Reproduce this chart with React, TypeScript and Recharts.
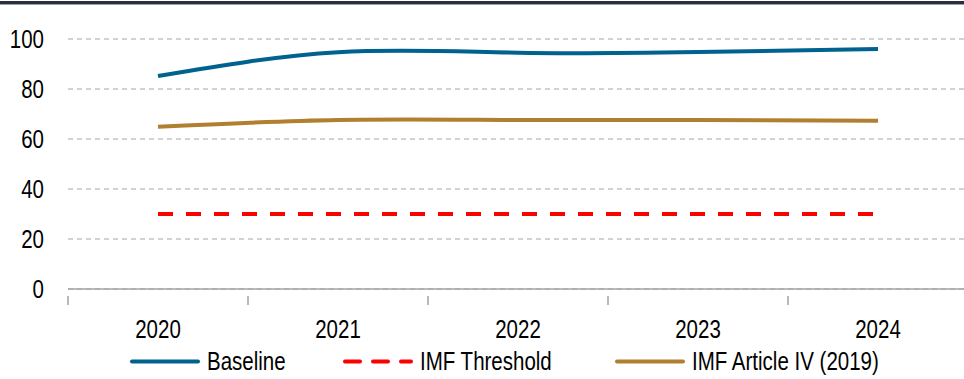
import { LineChart, Line, XAxis, YAxis, CartesianGrid, Legend } from 'recharts';

const years = ['2020', '2021', '2022', '2023', '2024'];
const baseline = [85.2, 94.7, 94.5, 94.8, 96.0];
const imfThreshold = [30, 30, 30, 30, 30];
const articleIV = [64.9, 67.6, 67.6, 67.6, 67.3];
const yTicks = [0, 20, 40, 60, 80, 100];
const legendOrder = ['Baseline', 'IMF Threshold', 'IMF Article IV (2019)'];

const data = years.map((year, i) => ({
  year,
  baseline: baseline[i],
  threshold: imfThreshold[i],
  article: articleIV[i],
}));

const FONT = "'Liberation Sans', Arial, sans-serif";
const AXIS_GREY = '#a3a3a3';
const NARROW = 0.82;

// Arial Narrow look: regular sans squeezed horizontally
const NarrowText = ({ x, y, anchor = 'start', children }: any) => (
  <text
    transform={`translate(${x},${y}) scale(${NARROW},1)`}
    textAnchor={anchor}
    fontSize={25}
    fontFamily={FONT}
    fill="#000"
  >
    {children}
  </text>
);

// category ticks sit between bands, labels in the middle
const YearTick = (props: any) => {
  const { x, y, payload, index, width, visibleTicksCount } = props;
  const band = width / visibleTicksCount;
  const isLast = index === visibleTicksCount - 1;
  return (
    <g>
      <line x1={x - band / 2} x2={x - band / 2} y1={y - 1} y2={y + 8} stroke={AXIS_GREY} strokeWidth={1.5} />
      {isLast && (
        <line x1={x + band / 2} x2={x + band / 2} y1={y - 1} y2={y + 8} stroke={AXIS_GREY} strokeWidth={1.5} />
      )}
      <NarrowText x={x} y={y + 41} anchor="middle">
        {payload.value}
      </NarrowText>
    </g>
  );
};

const ValueTick = (props: any) => {
  const { x, y, payload } = props;
  return (
    <NarrowText x={x} y={y + 9} anchor="end">
      {payload.value}
    </NarrowText>
  );
};

const legendX = [130, 343, 615];

const LegendContent = ({ payload }: any) => {
  const items = legendOrder.map((name) => payload.find((p: any) => p.value === name)).filter(Boolean);
  return (
    <svg width={964} height={34} style={{ display: 'block' }}>
      {items.map((item: any, i: number) => (
        <g key={item.value}>
          <line
            x1={legendX[i] + 2}
            x2={legendX[i] + 68}
            y1={16.5}
            y2={16.5}
            stroke={item.color}
            strokeWidth={4}
            strokeLinecap="round"
            strokeDasharray={item.payload.strokeDasharray}
          />
          <NarrowText x={legendX[i] + 77} y={25}>
            {item.value}
          </NarrowText>
        </g>
      ))}
    </svg>
  );
};

export default function App() {
  return (
    <div style={{ position: 'absolute', left: 0, top: 0, width: 964, height: 379, overflow: 'hidden', background: '#fff' }}>
      <div style={{ position: 'absolute', left: 0, top: 1, width: 964, height: 3, background: '#2b2e3c' }} />
      <div style={{ position: 'absolute', left: 0, top: 4, width: 964, height: 1, background: '#9da0ad' }} />
      <LineChart width={968} height={379} data={data} margin={{ top: 39, right: 0, bottom: 0, left: 0 }}>
        <CartesianGrid vertical={false} stroke="#a6a6a6" strokeDasharray="5 4" />
        <XAxis
          dataKey="year"
          scale="band"
          height={56}
          axisLine={{ stroke: AXIS_GREY, strokeWidth: 1.5 }}
          tickLine={false}
          tick={<YearTick />}
          interval={0}
        />
        <YAxis
          domain={[0, 100]}
          ticks={yTicks}
          width={68}
          axisLine={false}
          tickLine={false}
          tickMargin={18}
          tick={<ValueTick />}
        />
        <Legend content={<LegendContent />} wrapperStyle={{ left: 0, width: 964 }} />
        <Line
          dataKey="baseline"
          name="Baseline"
          type="natural"
          stroke="#00628e"
          strokeWidth={4}
          dot={false}
          isAnimationActive={false}
        />
        <Line
          dataKey="threshold"
          name="IMF Threshold"
          type="linear"
          stroke="#ff0000"
          strokeWidth={4}
          strokeDasharray="15 13"
          dot={false}
          isAnimationActive={false}
        />
        <Line
          dataKey="article"
          name="IMF Article IV (2019)"
          type="natural"
          stroke="#b07f30"
          strokeWidth={4}
          dot={false}
          isAnimationActive={false}
        />
      </LineChart>
    </div>
  );
}
